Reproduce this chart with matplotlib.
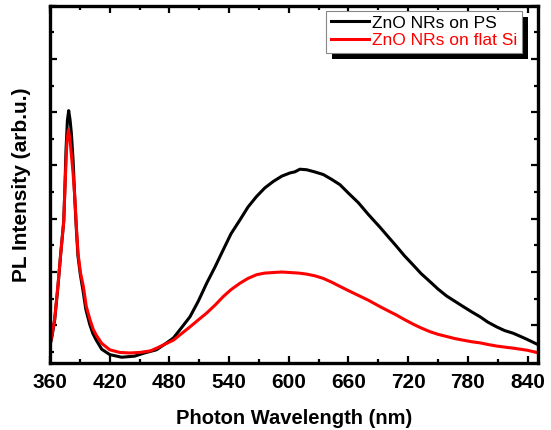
#!/usr/bin/env python3

import matplotlib
matplotlib.use("Agg")
import matplotlib.pyplot as plt
from matplotlib.patches import Rectangle
from matplotlib.transforms import IdentityTransform
from matplotlib.ticker import MultipleLocator, NullFormatter

# PL spectra (wavelength nm, intensity arb.u.)
wl_ps = [360, 362, 364.7, 368, 370.8, 373.8, 375, 376.1, 377.5, 378.8, 380.2, 381.5, 383.2,
	385.1, 386.5, 388.1, 390.5, 393.2, 396, 399.9, 403, 406.5, 412, 420, 432, 445, 455,
	467, 475, 484, 492, 500.7, 509, 517.5, 526, 534.2, 542, 551, 559, 567.7, 576, 584.4,
	593, 601.2, 606, 611.2, 618, 626, 634.7, 643, 651.4, 660, 670, 680, 691.7, 700, 708.4,
	716, 725.1, 733, 741.9, 750, 758.6, 767, 775.4, 784, 792.2, 800, 808.9, 817, 825.6,
	833, 839, 849]
pl_ps = [0.62, 0.79, 1.10, 1.73, 2.35, 2.95, 3.6, 4.3, 4.85, 5.03, 4.85, 4.6, 4.1,
	3.3, 2.8, 2.3, 1.95, 1.65, 1.3, 1.02, 0.85, 0.72, 0.55, 0.45, 0.40, 0.42, 0.48,
	0.54, 0.64, 0.76, 0.95, 1.16, 1.45, 1.79, 2.1, 2.42, 2.72, 2.98, 3.22, 3.42, 3.58, 3.70,
	3.80, 3.86, 3.88, 3.93, 3.92, 3.88, 3.83, 3.74, 3.64, 3.48, 3.3, 3.08, 2.84, 2.66, 2.48,
	2.31, 2.13, 1.97, 1.82, 1.68, 1.55, 1.45, 1.35, 1.25, 1.16, 1.06, 0.97, 0.9, 0.85,
	0.79, 0.74, 0.65]

wl_si = [360, 362, 364.7, 368, 370.8, 373.8, 375.5, 377, 378.5, 380, 381.5, 383.2, 385.1,
	386.5, 388.2, 390.5, 393.5, 396.5, 400.3, 403.5, 407, 412, 420, 430, 440, 450.5, 461,
	467.2, 475, 484, 492, 500.7, 509, 517.5, 526, 534.2, 542, 551, 559, 567.7, 576, 584.4,
	593, 601.2, 610, 618, 626, 634.7, 643, 651.4, 660, 670, 680, 691.7, 700, 708.4, 716,
	725.1, 733, 741.9, 750, 758.6, 767, 775.4, 784, 792.2, 800, 808.9, 817, 825.6, 833,
	840, 849]
pl_si = [0.65, 0.82, 1.12, 1.75, 2.35, 2.95, 3.8, 4.45, 4.67, 4.5, 4.2, 3.85, 3.36,
	2.85, 2.35, 2.0, 1.73, 1.35, 1.10, 0.92, 0.80, 0.66, 0.54, 0.49, 0.48, 0.49, 0.52,
	0.57, 0.64, 0.72, 0.84, 0.97, 1.10, 1.23, 1.38, 1.54, 1.67, 1.79, 1.88, 1.95, 1.98, 1.99,
	2.0, 1.99, 1.98, 1.96, 1.93, 1.88, 1.81, 1.73, 1.65, 1.56, 1.47, 1.35, 1.27, 1.19, 1.11,
	1.02, 0.95, 0.88, 0.83, 0.79, 0.75, 0.72, 0.69, 0.67, 0.64, 0.61, 0.59, 0.57, 0.55,
	0.53, 0.49]

labels = ["ZnO NRs on PS", "ZnO NRs on flat Si"]

plt.rcParams["font.family"] = ["Liberation Sans", "DejaVu Sans"]

W, H = 551, 430
fig = plt.figure(figsize=(W / 100, H / 100), dpi=100)
ax = fig.add_axes([50 / W, 1 - 363.3 / H, 487.5 / W, 357.6 / H])

ax.plot(wl_ps, pl_ps, color="black", lw=2.2, label=labels[0])
ax.plot(wl_si, pl_si, color="#ff0000", lw=2.2, label=labels[1])

ax.set_xlim(360, 850)
ax.set_ylim(0.286, 7.0)
ax.xaxis.set_major_locator(MultipleLocator(60))
ax.xaxis.set_minor_locator(MultipleLocator(30))
ax.yaxis.set_major_locator(MultipleLocator(1))
ax.yaxis.set_minor_locator(MultipleLocator(0.5))
ax.yaxis.set_major_formatter(NullFormatter())

for s in ax.spines.values():
	s.set_linewidth(2.4)
ax.tick_params(which="both", direction="in", top=True, right=True, width=1.6)
ax.tick_params(which="major", length=5)
ax.tick_params(which="minor", length=3)
ax.tick_params(axis="x", labelsize=15, pad=7)
for t in ax.get_xticklabels():
	t.set_fontweight("bold")

ax.set_xlabel("Photon Wavelength (nm)", fontsize=14.5, fontweight="bold", labelpad=12)
ax.set_ylabel("PL Intensity (arb.u.)", fontsize=15, fontweight="bold", labelpad=10)

leg = ax.legend(loc="upper right", bbox_to_anchor=(0.968, 0.985), fontsize=12.5,
	labelcolor="linecolor", frameon=True, fancybox=False, framealpha=1,
	handlelength=2.2, handletextpad=0.2, borderpad=0.25, labelspacing=0.15,
	borderaxespad=0)
leg.get_frame().set_edgecolor("#888888")
leg.get_frame().set_linewidth(0.8)
leg.set_zorder(5)

# black drop shadow behind the legend box
fig.canvas.draw()
bb = leg.get_window_extent()
shadow = Rectangle((bb.x0 + 6, bb.y0 - 6), bb.width, bb.height,
	facecolor="black", edgecolor="none", zorder=4)
shadow.set_transform(IdentityTransform())
ax.add_artist(shadow)

fig.savefig("out.png", dpi=100)
